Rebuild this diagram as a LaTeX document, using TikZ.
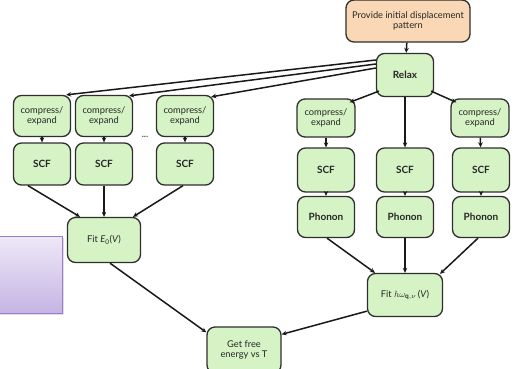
\documentclass[tikz,border=0pt]{standalone}
\usepackage{fontspec}
\setmainfont{Lato}
\usetikzlibrary{arrows.meta,shadows}
\definecolor{boxgreen}{HTML}{D6F3C6}
\definecolor{boxorange}{HTML}{FBD8B5}
\definecolor{boxline}{HTML}{2E2E2E}
\definecolor{lavtop}{HTML}{EEE9F7}
\definecolor{lavbot}{HTML}{C4B4E4}
\definecolor{lavline}{HTML}{9B7DC9}
\tikzset{
  x=1pt, y=-1pt,
  stepbox/.style={draw=boxline, line width=1.3pt, fill=boxgreen, rounded corners=8pt,
    align=center, inner sep=1pt, font=\fontsize{9.3}{10.5}\selectfont, text=black!85},
  boldbox/.style={stepbox, font=\fontsize{10}{11}\selectfont\bfseries},
  flow/.style={line width=1.5pt, draw=black!90, -{Stealth[length=5pt,width=4.5pt]}},
}
\begin{document}
\begin{tikzpicture}
\useasboundingbox (0,0) rectangle (519,368);

% purple panel on the left
\shade[top color=lavtop, bottom color=lavbot, draw=lavline, line width=1pt,
  drop shadow={opacity=0.25, shadow xshift=1.5pt, shadow yshift=-1.5pt}]
  (-5,236) rectangle (62,313);

% top of the chain
\node[stepbox, fill=boxorange, minimum width=124pt, minimum height=42pt] (init) at (408,21)
  {Provide initial displacement\\pattern};
\node[boldbox, minimum width=57pt, minimum height=43pt] (relax) at (405,75) {Relax};

% volume branch
\foreach \n/\x in {1/42, 2/104, 3/185} {
  \node[stepbox, minimum width=57pt, minimum height=41pt] (lc\n) at (\x,116) {compress/\\expand};
  \node[boldbox, minimum width=57pt, minimum height=42pt] (ls\n) at (\x,164) {SCF};
}
\node[text=black!70, font=\small\bfseries] (dots) at (145,137) {...};
\node[stepbox, minimum width=73pt, minimum height=45pt] (fite) at (104,240)
  {Fit \textit{E}\textsubscript{0}(\textit{V})};

% phonon branch
\node[stepbox, minimum width=58pt, minimum height=38pt] (rc1) at (326,118) {compress/\\expand};
\node[stepbox, minimum width=58pt, minimum height=38pt] (rc3) at (480,118) {compress/\\expand};
\foreach \n/\x in {1/326, 2/405, 3/481} {
  \node[boldbox, minimum width=57pt, minimum height=44pt] (rs\n) at (\x,170) {SCF};
  \node[boldbox, minimum width=57pt, minimum height=41pt] (ph\n) at (\x,217) {Phonon};
}
\node[stepbox, minimum width=75pt, minimum height=43pt] (fith) at (405,295)
  {Fit $h\omega_{\mathbf{q},\nu}$\,(\textit{V})};

% final step
\node[stepbox, minimum width=74pt, minimum height=46pt] (free) at (244,350)
  {Get free\\energy vs T};

% connectors (shifts are in page directions: positive yshift goes up)
\draw[flow] (init) -- (relax);
\draw[flow] ([yshift=15pt]relax.west) -- ([xshift=-5pt]lc1.north east);
\draw[flow] ([yshift=11pt]relax.west) -- ([xshift=-4pt,yshift=-1pt]lc2.north east);
\draw[flow] ([yshift=7pt]relax.west) -- ([xshift=-3pt,yshift=-2pt]lc3.north east);
\draw[flow] ([xshift=3pt,yshift=6pt]relax.south west) -- ([xshift=-6pt,yshift=-4pt]rc1.north east);
\draw[flow] (relax) -- (rs2);
\draw[flow] ([xshift=-3pt,yshift=6pt]relax.south east) -- ([xshift=6pt,yshift=-4pt]rc3.north west);
\foreach \n in {1,2,3} {
  \draw[flow] (lc\n) -- (ls\n);
  \draw[flow] (rs\n) -- (ph\n);
}
\draw[flow] (rc1) -- (rs1);
\draw[flow] (rc3) -- (rs3);
\draw[flow] ([xshift=-14pt]ls1.south) -- ([xshift=-24pt]fite.north);
\draw[flow] (ls2) -- (fite);
\draw[flow] ([xshift=-2pt]ls3.south) -- ([xshift=29pt]fite.north);
\draw[flow] ([xshift=1pt]ph1.south) -- ([xshift=-30pt]fith.north);
\draw[flow] (ph2) -- (fith);
\draw[flow] ([xshift=-3pt]ph3.south) -- ([xshift=35pt,yshift=-1pt]fith.north);
\draw[flow] ([xshift=6pt]fite.south) -- ([yshift=-6pt]free.north west);
\draw[flow] ([yshift=6pt]fith.south west) -- ([yshift=-8pt]free.north east);
\end{tikzpicture}
\end{document}
